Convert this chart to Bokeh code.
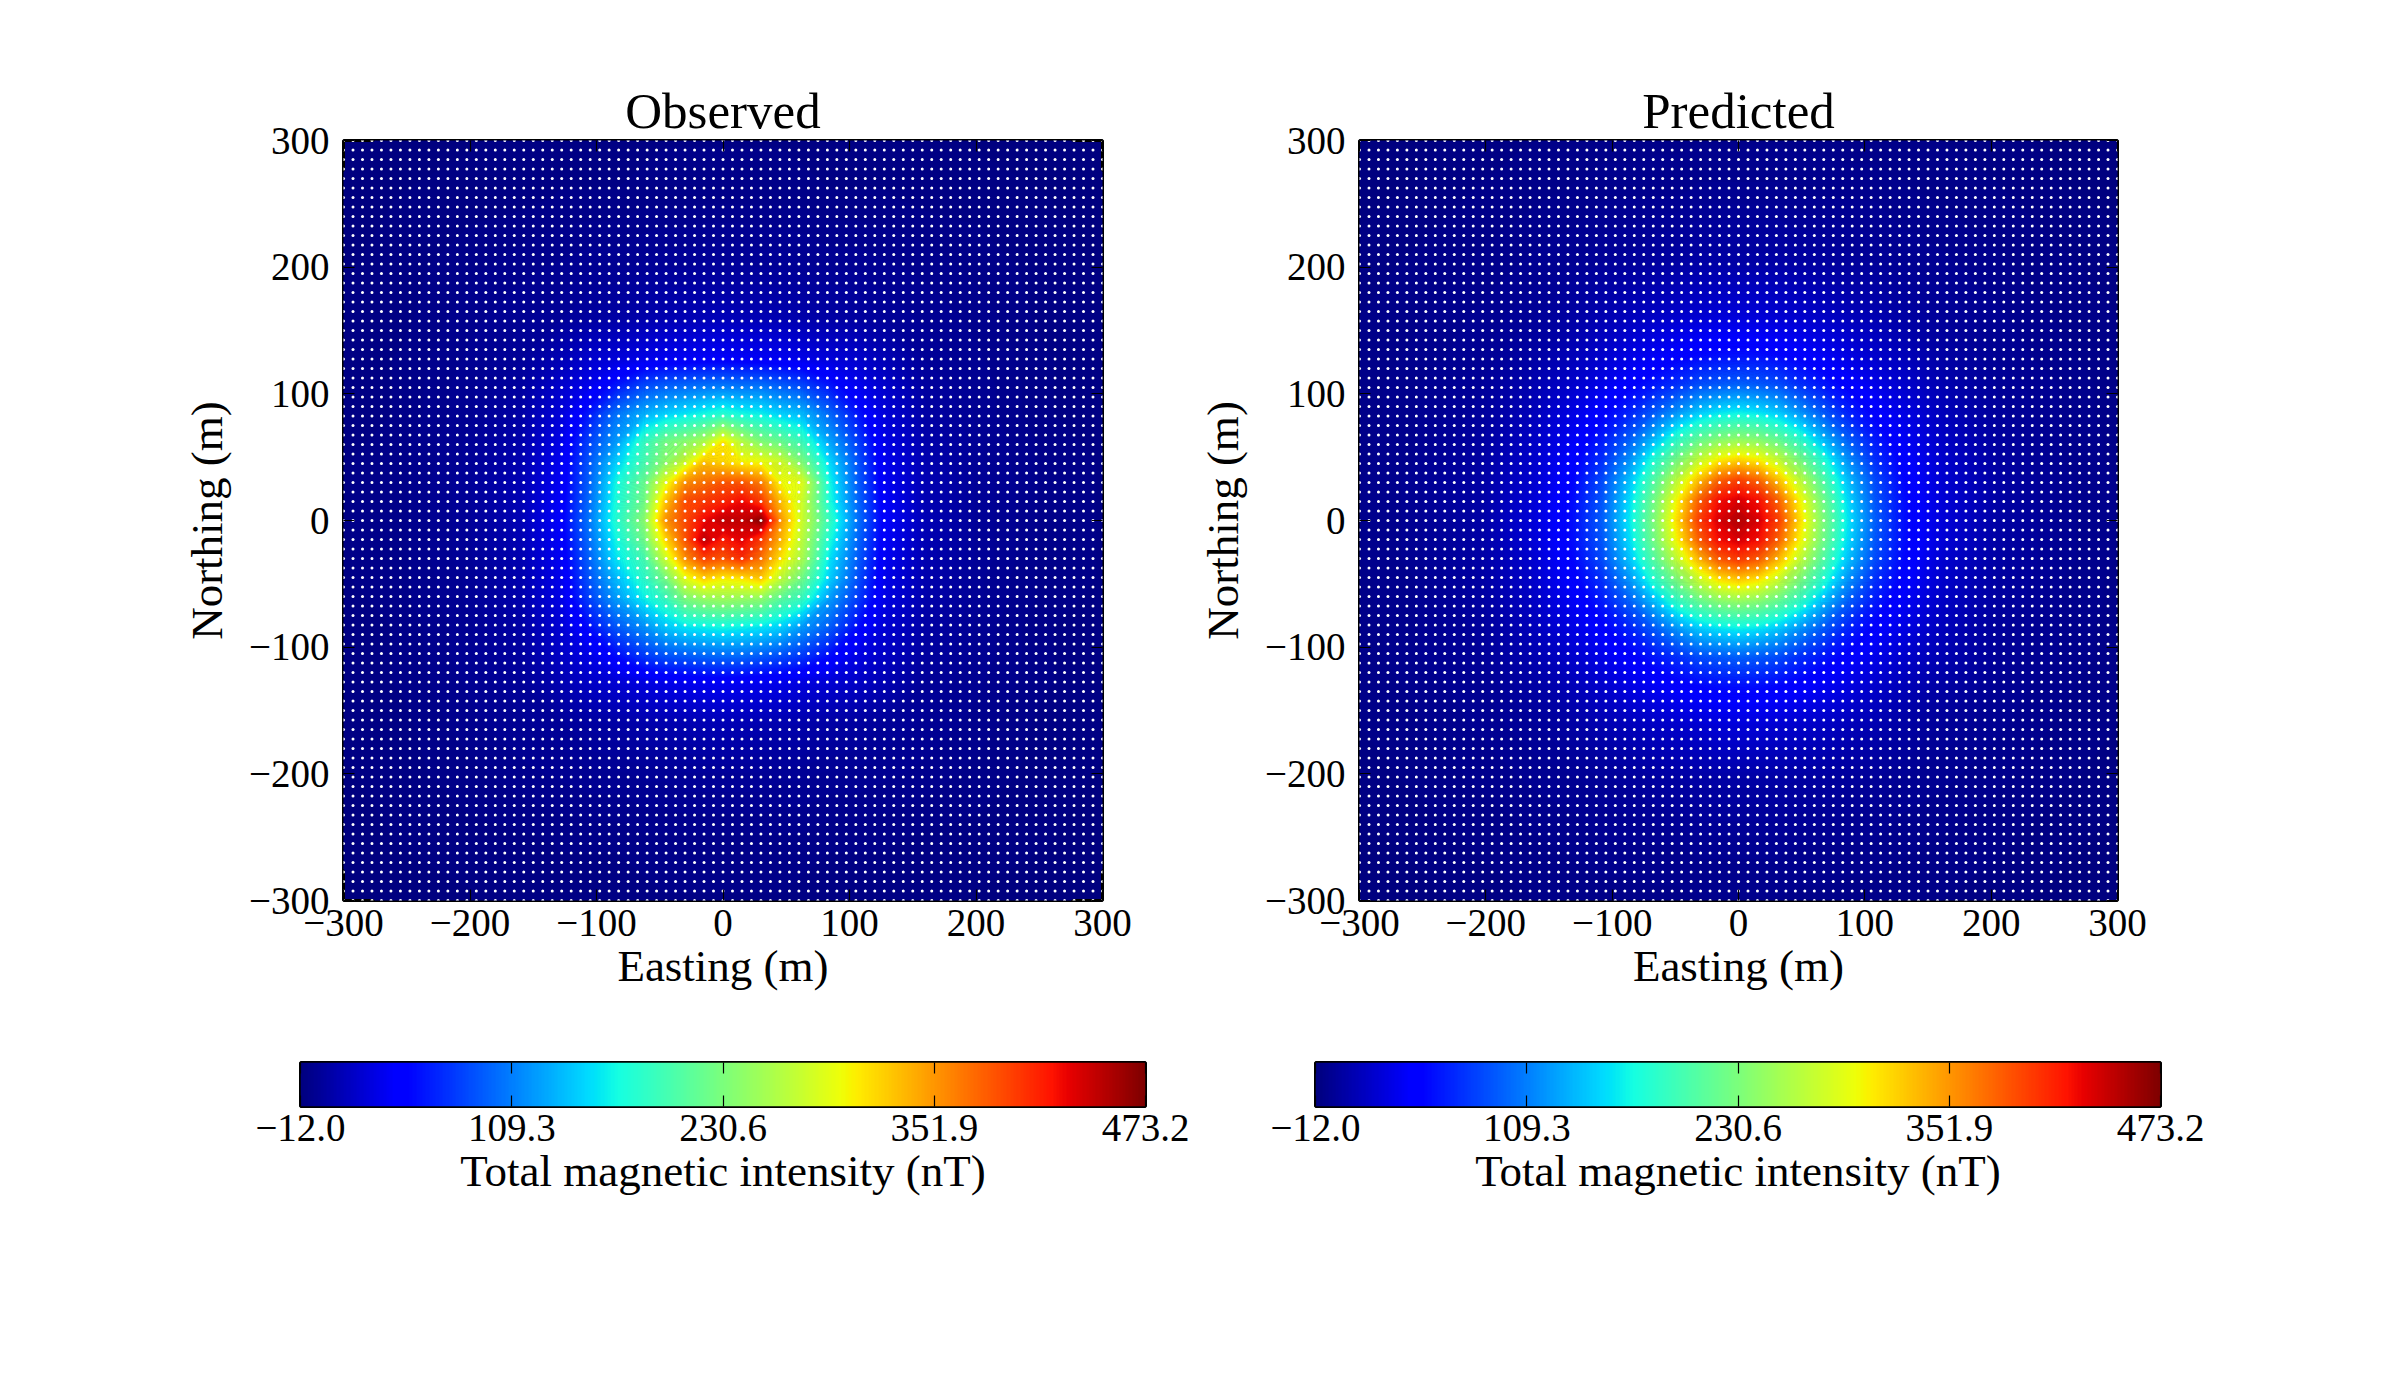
import numpy as np
from bokeh.embed import file_html
from bokeh.layouts import column, row
from bokeh.models import FixedTicker, LinearAxis, LinearColorMapper
from bokeh.plotting import figure
from bokeh.resources import INLINE

titles = ["Observed", "Predicted"]
x_label = "Easting (m)"
y_label = "Northing (m)"
cbar_label = "Total magnetic intensity (nT)"
axis_ticks = [-300, -200, -100, 0, 100, 200, 300]
cbar_ticks = [-12.0, 109.3, 230.6, 351.9, 473.2]
vmin, vmax = -12.0, 473.2

# stations: regular survey grid, 7.5 m apart
stations = np.arange(-300, 300.1, 7.5)

# fields (nT) at these positions; rows run from south to north
observed_axis = [-320, -255, -200, -160, -128, -106, -84, -62, -46, -30, -15, 0, 15, 30, 46, 62, 84, 106, 128, 160, 200, 255, 320]
predicted_axis = [-325, -260, -205, -162, -130, -108, -86, -65, -49, -32, -16, 0, 16, 32, 49, 65, 86, 108, 130, 162, 205, 260, 325]

observed = [
    [-12,-12,-11,-10,-10,-10,-10,-10,-9,-9,-9,-9,-9,-9,-9,-10,-10,-10,-10,-10,-11,-12,-12],
    [-12,-10,-9,-9,-8,-8,-8,-7,-7,-7,-7,-7,-7,-7,-7,-7,-8,-8,-8,-9,-9,-10,-12],
    [-11,-9,-7,-5,-4,-3,-3,-2,-2,-1,-1,-1,-1,-1,-2,-2,-3,-3,-4,-5,-7,-9,-11],
    [-10,-9,-5,-3,-1,2,4,7,8,9,10,11,10,9,8,7,4,2,-1,-3,-5,-9,-10],
    [-10,-8,-4,-1,10,18,24,29,33,35,37,38,37,35,33,29,24,18,10,-1,-4,-8,-10],
    [-10,-8,-3,2,18,32,55,78,90,95,100,102,102,95,88,78,55,32,18,2,-3,-8,-10],
    [-10,-8,-3,4,24,55,92,120,145,160,165,170,165,160,150,125,95,55,24,4,-3,-8,-10],
    [-10,-7,-2,7,31,78,125,165,190,230,245,250,245,240,210,190,125,78,31,7,-2,-7,-10],
    [-9,-7,-2,8,34,88,140,185,225,290,320,305,310,325,270,225,150,88,34,8,-2,-7,-9],
    [-9,-7,-1,9,38,95,160,200,275,355,395,385,405,370,310,260,160,95,38,9,-1,-7,-9],
    [-9,-7,-1,10,41,100,170,225,315,385,445,415,430,400,335,270,175,100,41,10,-1,-7,-9],
    [-9,-7,-1,11,43,105,180,240,350,390,425,445,445,470,350,280,190,105,43,11,-1,-7,-9],
    [-9,-7,-1,10,41,100,175,225,325,390,400,410,425,400,330,280,175,100,41,10,-1,-7,-9],
    [-9,-7,-1,10,38,95,170,220,290,355,370,385,385,365,300,290,170,95,38,10,-1,-7,-9],
    [-9,-7,-2,9,36,90,150,200,240,280,330,320,305,300,280,235,155,90,36,9,-2,-7,-9],
    [-10,-7,-2,7,32,80,125,190,225,240,260,310,265,235,220,195,130,80,32,7,-2,-7,-10],
    [-10,-8,-3,4,26,60,105,135,150,160,170,180,170,165,150,140,100,60,26,4,-3,-8,-10],
    [-10,-8,-3,2,21,35,60,85,95,100,105,108,105,105,95,85,60,37,21,2,-3,-8,-10],
    [-10,-8,-4,-1,11,21,26,32,36,38,40,41,40,38,36,32,26,21,11,-1,-4,-8,-10],
    [-10,-9,-5,-3,-1,2,4,7,9,10,11,12,11,10,9,7,4,2,-1,-3,-5,-9,-10],
    [-11,-9,-7,-5,-4,-3,-3,-2,-1,-1,0,0,0,-1,-1,-2,-3,-3,-4,-5,-7,-9,-11],
    [-12,-10,-9,-9,-8,-8,-8,-7,-7,-7,-7,-7,-7,-7,-7,-7,-8,-8,-8,-9,-9,-10,-12],
    [-12,-12,-11,-10,-10,-10,-10,-10,-9,-9,-9,-9,-9,-9,-9,-10,-10,-10,-10,-10,-11,-12,-12],
]

predicted = [
    [-12,-11,-10,-9,-9,-9,-9,-8,-8,-8,-8,-8,-8,-8,-8,-8,-9,-9,-9,-9,-10,-11,-12],
    [-11,-10,-8,-7,-6,-5,-5,-5,-5,-4,-4,-4,-4,-4,-5,-5,-5,-5,-6,-7,-8,-10,-11],
    [-10,-8,-6,-4,-3,-1,0,2,3,4,4,4,4,4,3,2,0,-1,-3,-4,-6,-8,-10],
    [-9,-7,-4,-1,4,9,13,17,20,22,25,26,25,22,20,17,13,9,4,-1,-4,-7,-9],
    [-9,-6,-3,4,13,21,31,39,46,51,55,56,55,51,46,39,31,21,13,4,-3,-6,-9],
    [-9,-5,-1,9,21,33,46,60,70,84,90,94,90,84,70,60,46,33,21,9,-1,-5,-9],
    [-9,-5,0,13,31,46,65,94,119,143,156,162,156,143,119,94,65,46,31,13,0,-5,-9],
    [-8,-5,2,17,39,60,94,143,182,212,232,240,232,212,182,143,94,60,39,17,2,-5,-8],
    [-8,-5,3,20,46,70,119,182,225,269,301,314,301,269,225,182,119,70,46,20,3,-5,-8],
    [-8,-4,4,22,51,84,143,212,269,328,376,395,376,328,269,212,143,84,51,22,4,-4,-8],
    [-8,-4,4,25,55,90,156,232,301,376,421,433,421,376,301,232,156,90,55,25,4,-4,-8],
    [-8,-4,4,26,56,94,162,240,314,395,433,450,433,395,314,240,162,94,56,26,4,-4,-8],
    [-8,-4,4,25,55,90,156,232,301,376,421,433,421,376,301,232,156,90,55,25,4,-4,-8],
    [-8,-4,4,22,51,84,143,212,269,328,376,395,376,328,269,212,143,84,51,22,4,-4,-8],
    [-8,-5,3,20,46,70,119,182,225,269,301,314,301,269,225,182,119,70,46,20,3,-5,-8],
    [-8,-5,2,17,39,60,94,143,182,212,232,240,232,212,182,143,94,60,39,17,2,-5,-8],
    [-9,-5,0,13,31,46,65,94,119,143,156,162,156,143,119,94,65,46,31,13,0,-5,-9],
    [-9,-5,-1,9,21,33,46,60,70,84,90,94,90,84,70,60,46,33,21,9,-1,-5,-9],
    [-9,-6,-3,4,13,21,31,39,46,51,55,56,55,51,46,39,31,21,13,4,-3,-6,-9],
    [-9,-7,-4,-1,4,9,13,17,20,22,25,26,25,22,20,17,13,9,4,-1,-4,-7,-9],
    [-10,-8,-6,-4,-3,-1,0,2,3,4,4,4,4,4,3,2,0,-1,-3,-4,-6,-8,-10],
    [-11,-10,-8,-7,-6,-5,-5,-5,-5,-4,-4,-4,-4,-4,-5,-5,-5,-5,-6,-7,-8,-10,-11],
    [-12,-11,-10,-9,-9,-9,-9,-8,-8,-8,-8,-8,-8,-8,-8,-8,-9,-9,-9,-9,-10,-11,-12],
]

FONT = "Liberation Serif"
TICK_SIZE = "39px"
LABEL_SIZE = "45px"
TITLE_SIZE = "51px"


def jet(n):
    t = np.linspace(0, 1, n)
    r = np.interp(t, [0, 0.35, 0.66, 0.89, 1], [0, 0, 1, 1, 0.5])
    g = np.interp(t, [0, 0.125, 0.375, 0.64, 0.91, 1], [0, 0, 1, 1, 0, 0])
    b = np.interp(t, [0, 0.11, 0.34, 0.65, 1], [0.5, 1, 1, 0, 0])
    return ["#%02x%02x%02x" % (int(round(a * 255)), int(round(c * 255)), int(round(d * 255)))
            for a, c, d in zip(r, g, b)]


def minus(text):
    return str(text).replace("-", "\u2212")


def style_axis(ax, ticks, labels=None):
    ax.ticker = FixedTicker(ticks=list(ticks))
    ax.minor_tick_line_color = None
    ax.axis_line_color = None
    ax.major_tick_in = 11
    ax.major_tick_out = 0
    ax.major_tick_line_color = "black"
    ax.major_tick_line_width = 1.2
    ax.major_label_text_font = FONT
    ax.major_label_text_font_size = TICK_SIZE
    ax.major_label_text_color = "black"
    ax.axis_label_text_font = FONT
    ax.axis_label_text_font_size = LABEL_SIZE
    ax.axis_label_text_font_style = "normal"
    ax.axis_label_text_color = "black"
    ax.major_label_overrides = {t: (labels[i] if labels else "") for i, t in enumerate(ticks)}


def map_panel(title, field, axis, left, right):
    top, frame_w, frame_h, bottom = 140, 759, 760, 100
    p = figure(width=left + frame_w + right, height=top + frame_h + bottom,
               x_range=(-300, 300), y_range=(-300, 300),
               toolbar_location=None, output_backend="svg",
               min_border_left=left, min_border_right=right,
               min_border_top=top, min_border_bottom=bottom)
    p.frame_align = False
    p.grid.visible = False
    p.background_fill_color = "#00007f"
    p.border_fill_color = "white"
    p.outline_line_color = "black"
    p.outline_line_width = 3

    levels = np.linspace(vmin, vmax, 257)
    p.contour(axis, axis, np.array(field, dtype=float), levels,
              fill_color=jet(256), line_color=jet(257), line_width=1)
    xs, ys = np.meshgrid(stations, stations)
    p.scatter(xs.ravel(), ys.ravel(), size=3.0, fill_color="white", line_color=None)

    labels = [minus(t) for t in axis_ticks]
    style_axis(p.xaxis[0], axis_ticks, labels)
    style_axis(p.yaxis[0], axis_ticks, labels)
    p.xaxis[0].axis_label = x_label
    p.yaxis[0].axis_label = y_label
    p.xaxis[0].major_label_standoff = 9
    p.xaxis[0].axis_label_standoff = 2
    p.yaxis[0].major_label_standoff = 14
    p.yaxis[0].axis_label_standoff = 14
    top_ax = LinearAxis()
    right_ax = LinearAxis()
    style_axis(top_ax, axis_ticks)
    style_axis(right_ax, axis_ticks)
    top_ax.major_label_standoff = 0
    right_ax.major_label_standoff = 0
    p.add_layout(top_ax, "above")
    p.add_layout(right_ax, "right")

    p.title.text = title
    p.title.text_font = FONT
    p.title.text_font_size = TITLE_SIZE
    p.title.text_font_style = "normal"
    p.title.text_color = "black"
    p.title.align = "center"
    p.title.standoff = 3
    return p


def cbar_panel(left, right):
    top, frame_w, frame_h, bottom = 62, 845, 44, 100
    p = figure(width=left + frame_w + right, height=top + frame_h + bottom,
               x_range=(vmin, vmax), y_range=(0, 1), y_axis_location=None,
               toolbar_location=None, output_backend="svg",
               min_border_left=left, min_border_right=right,
               min_border_top=top, min_border_bottom=bottom)
    p.frame_align = False
    p.grid.visible = False
    p.outline_line_color = "black"
    p.outline_line_width = 3
    ramp = np.linspace(vmin, vmax, 256).reshape(1, -1)
    mapper = LinearColorMapper(palette=jet(256), low=vmin, high=vmax)
    p.image(image=[ramp], x=vmin, y=0, dw=vmax - vmin, dh=1, color_mapper=mapper)
    labels = [minus("%.1f" % t) for t in cbar_ticks]
    style_axis(p.xaxis[0], cbar_ticks, labels)
    p.xaxis[0].axis_label = cbar_label
    p.xaxis[0].major_label_standoff = 8
    p.xaxis[0].axis_label_standoff = 2
    top_ax = LinearAxis()
    style_axis(top_ax, cbar_ticks)
    top_ax.major_label_standoff = 0
    p.add_layout(top_ax, "above")
    return p


left_col = column(map_panel(titles[0], observed, observed_axis, 343, 93), cbar_panel(300, 50))
right_col = column(map_panel(titles[1], predicted, predicted_axis, 163, 100), cbar_panel(120, 57))
page = row(left_col, right_col)

open("out.html", "w").write(file_html(page, INLINE))
